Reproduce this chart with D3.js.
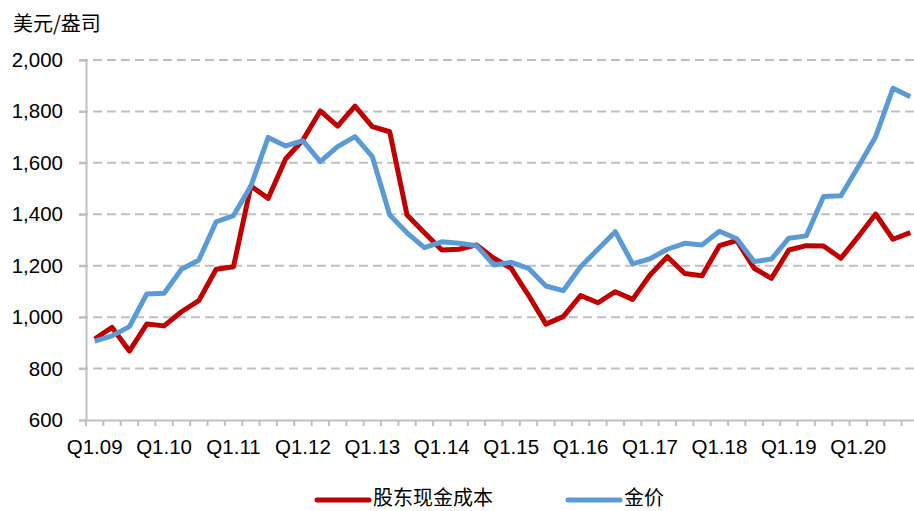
<!DOCTYPE html>
<html><head><meta charset="utf-8">
<script src="https://cdn.jsdelivr.net/npm/d3@7"></script>
<style>
html,body{margin:0;padding:0;background:#fff;overflow:hidden;}
svg{display:block;}
</style></head>
<body>
<svg id="chart" width="914" height="511"></svg>
<script>
const years = ["09","10","11","12","13","14","15","16","17","18","19","20"];
const categories = years.flatMap(y => ["Q1","Q2","Q3","Q4"].map(q => q + "." + y));
const costSeries = [915,960,868,973,966,1021,1064,1186,1196,1510,1462,1615,
  1689,1802,1743,1821,1741,1721,1397,1328,1261,1264,1281,1229,
  1190,1085,973,1002,1084,1056,1099,1069,1164,1235,1170,1161,
  1278,1298,1190,1151,1261,1278,1277,1229,1313,1401,1303,1329];
const goldSeries = [907,927,963,1090,1093,1186,1222,1371,1395,1510,1699,1666,
  1686,1605,1663,1702,1624,1397,1328,1270,1293,1287,1278,1203,
  1213,1190,1121,1103,1196,1264,1332,1207,1227,1264,1287,1281,
  1334,1305,1216,1226,1307,1316,1469,1472,1585,1702,1890,1857];
const yTicks = [600,800,1000,1200,1400,1600,1800,2000];
const seriesNames = ["股东现金成本","金价"];
const unitLabel = "美元/盎司";

const svg = d3.select("#chart");
const colors = ["#C00000","#5B9BD5"];
const numFont = "'Liberation Sans', Arial, sans-serif";
const cjkFont = "'Noto Sans CJK SC', sans-serif";

const x = d3.scaleBand().domain(categories).range([86, 919]).paddingInner(0).paddingOuter(0);
const y = d3.scaleLinear().domain([600, 2000]).range([420, 60]);

// gridlines
svg.append("g").selectAll("line").data(yTicks.filter(v => v > 600)).join("line")
  .attr("x1", 79).attr("x2", 914)
  .attr("y1", d => y(d)).attr("y2", d => y(d))
  .attr("stroke", "#BFBFBF").attr("stroke-width", 2)
  .attr("stroke-dasharray", "9,5");

// y axis
const yAxis = svg.append("g").attr("transform", "translate(86,0)")
  .call(d3.axisLeft(y).tickValues(yTicks).tickSize(7).tickPadding(16).tickFormat(d3.format(",")));
yAxis.select(".domain").attr("stroke", "#BFBFBF").attr("stroke-width", 2);
yAxis.selectAll(".tick line").attr("stroke", "#BFBFBF").attr("stroke-width", 2);
yAxis.selectAll("text").attr("font-family", numFont).attr("font-size", 20.5).attr("fill", "#000");

// x axis
const xAxis = svg.append("g").attr("transform", "translate(0,420)")
  .call(d3.axisBottom(x).tickSize(0).tickPadding(19)
    .tickFormat(d => d.startsWith("Q1") ? d : ""));
xAxis.select(".domain").attr("stroke", "#BFBFBF").attr("stroke-width", 2);
xAxis.selectAll("text").attr("font-family", numFont).attr("font-size", 20.5).attr("fill", "#000");
// category boundary ticks
svg.append("g").selectAll("line").data(categories).join("line")
  .attr("x1", d => x(d)).attr("x2", d => x(d))
  .attr("y1", 420).attr("y2", 426)
  .attr("stroke", "#BFBFBF").attr("stroke-width", 2);

// lines
const line = d3.line()
  .x((d, i) => x(categories[i]) + x.bandwidth() / 2)
  .y(d => y(d));
[costSeries, goldSeries].forEach((s, k) => {
  svg.append("path").datum(s)
    .attr("d", line)
    .attr("fill", "none")
    .attr("stroke", colors[k])
    .attr("stroke-width", 5)
    .attr("stroke-linejoin", "round");
});

// unit label
svg.append("text").attr("x", 13).attr("y", 31)
  .attr("font-family", cjkFont).attr("font-size", 20).attr("fill", "#000")
  .text(unitLabel);

// legend
const legendX = [315, 566];
seriesNames.forEach((name, k) => {
  svg.append("line")
    .attr("x1", legendX[k] + 2).attr("x2", legendX[k] + 54)
    .attr("y1", 500).attr("y2", 500)
    .attr("stroke", colors[k]).attr("stroke-width", 5).attr("stroke-linecap", "round");
  svg.append("text").attr("x", legendX[k] + 58).attr("y", 505)
    .attr("font-family", cjkFont).attr("font-size", 20).attr("fill", "#000")
    .text(name);
});
</script>
</body></html>
